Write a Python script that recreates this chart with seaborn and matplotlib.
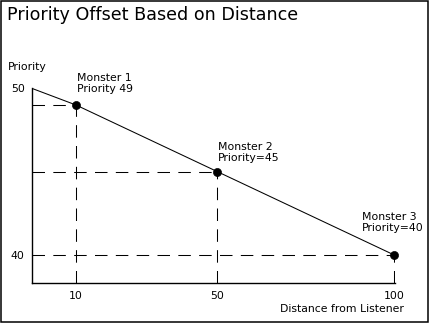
import matplotlib
matplotlib.use("Agg")
import matplotlib.pyplot as plt
from matplotlib.patches import Rectangle
import seaborn as sns
import pandas as pd

# ---- data ----
monster_distance = [10, 50, 100]
monster_priority = [49, 45, 40]
monster_labels = ["Monster 1\nPriority 49", "Monster 2\nPriority=45", "Monster 3\nPriority=40"]
line_distance = [-2.5, 10, 50, 100]
line_priority = [50, 49, 45, 40]
x_ticks = [10, 50, 100]
y_ticks = [40, 50]
title = "Priority Offset Based on Distance"
x_label = "Distance from Listener"
y_label = "Priority"

sns.set_style("white")
plt.rcParams["font.family"] = ["DejaVu Sans"]
plt.rcParams["text.color"] = "black"
plt.rcParams["axes.labelcolor"] = "black"
plt.rcParams["xtick.color"] = "black"
plt.rcParams["ytick.color"] = "black"

SMALL = 7.8

W, H = 430, 323
fig = plt.figure(figsize=(W / 100, H / 100), dpi=100)
fig.patch.set_facecolor("white")

ax_left, ax_right = 31.7, 394.5
ax_top, ax_bottom = 88.3, 283.3
ax = fig.add_axes([ax_left / W, 1 - ax_bottom / H, (ax_right - ax_left) / W, (ax_bottom - ax_top) / H])
ax.set_facecolor("white")

line_df = pd.DataFrame({"d": line_distance, "p": line_priority})
pts_df = pd.DataFrame({"d": monster_distance, "p": monster_priority})

xmin, xmax = -2.5, 100.1
ymin, ymax = 38.3, 50

dash = (0, (12, 8))
for d, p in zip(monster_distance, monster_priority):
    ax.plot([xmin, d], [p, p], color="black", lw=0.75, linestyle=dash, zorder=1)
    ax.plot([d, d], [ymin, p], color="black", lw=0.75, linestyle=dash, zorder=1)

sns.lineplot(data=line_df, x="d", y="p", color="black", lw=0.75, ax=ax, zorder=2)
sns.scatterplot(data=pts_df, x="d", y="p", color="black", s=34, edgecolor="black",
                ax=ax, zorder=3, clip_on=False)

offsets = [(1, 32), (1, 30), (-32, 43)]
for d, p, lab, off in zip(monster_distance, monster_priority, monster_labels, offsets):
    ax.annotate(lab, (d, p), xytext=off, textcoords="offset pixels",
                ha="left", va="top", fontsize=SMALL, linespacing=1.18, color="black")

ax.set_xlim(xmin, xmax)
ax.set_ylim(ymin, ymax)
ax.set_xticks(x_ticks)
ax.set_yticks(y_ticks)
ax.set_xticklabels([str(t) for t in x_ticks], fontsize=SMALL)
ax.set_yticklabels([str(t) for t in y_ticks], fontsize=SMALL)
ax.tick_params(axis="x", direction="inout", length=5, width=0.8, pad=3, colors="black")
ax.tick_params(axis="y", length=0, pad=5, colors="black")
ax.set_xlabel("")
ax.set_ylabel("")
for s in ["top", "right"]:
    ax.spines[s].set_visible(False)
for s in ["left", "bottom"]:
    ax.spines[s].set_color("black")
    ax.spines[s].set_linewidth(1.0)

fig.text(7 / W, 1 - 15 / H, title, ha="left", va="center", fontsize=12.6, color="black")
fig.text(8 / W, 1 - 67 / H, y_label, ha="left", va="center", fontsize=SMALL, color="black")
fig.text(404 / W, 1 - 309 / H, x_label, ha="right", va="center", fontsize=SMALL, color="black")

fig.patches.append(Rectangle((0.6 / W, 1.3 / H), (427.6 - 0.6) / W, (322.2 - 1.3) / H,
                             transform=fig.transFigure, fill=False, edgecolor="black",
                             lw=1.1, figure=fig))

fig.savefig("out.png", dpi=100, facecolor="white")
